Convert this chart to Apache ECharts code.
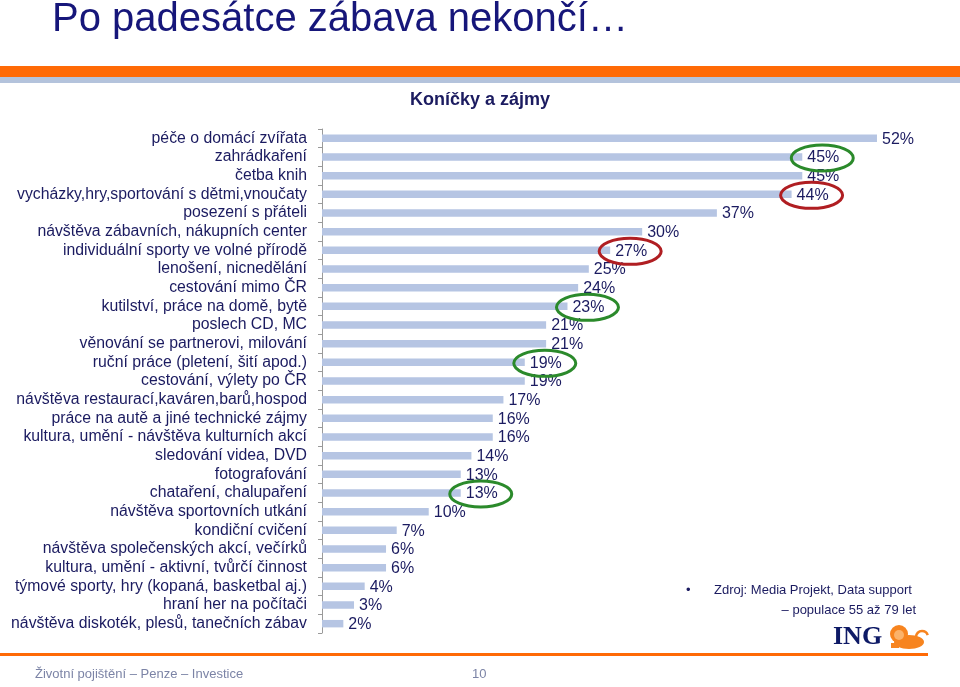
<!DOCTYPE html>
<html>
<head>
<meta charset="utf-8">
<script src="https://cdn.jsdelivr.net/npm/echarts@6/dist/echarts.min.js"></script>
<style>
html,body{margin:0;padding:0;background:#fff;}
#chart{width:960px;height:687px;}
</style>
</head>
<body>
<div id="chart"></div>
<script>
// ---- data ----
var categories = [
  'péče o domácí zvířata',
  'zahrádkaření',
  'četba knih',
  'vycházky,hry,sportování s dětmi,vnoučaty',
  'posezení s přáteli',
  'návštěva zábavních, nákupních center',
  'individuální sporty ve volné přírodě',
  'lenošení, nicnedělání',
  'cestování mimo ČR',
  'kutilství, práce na domě, bytě',
  'poslech CD, MC',
  'věnování se partnerovi, milování',
  'ruční práce (pletení, šití apod.)',
  'cestování, výlety po ČR',
  'návštěva restaurací,kaváren,barů,hospod',
  'práce na autě a jiné technické zájmy',
  'kultura, umění - návštěva kulturních akcí',
  'sledování videa, DVD',
  'fotografování',
  'chataření, chalupaření',
  'návštěva sportovních utkání',
  'kondiční cvičení',
  'návštěva společenských akcí, večírků',
  'kultura, umění - aktivní, tvůrčí činnost',
  'týmové sporty, hry (kopaná, basketbal aj.)',
  'hraní her na počítači',
  'návštěva diskoték, plesů, tanečních zábav'
];
var values = [52, 45, 45, 44, 37, 30, 27, 25, 24, 23, 21, 21, 19, 19, 17, 16, 16, 14, 13, 13, 10, 7, 6, 6, 4, 3, 2];
var greenHighlights = [1, 9, 12, 19];
var redHighlights = [3, 6];

var chartTitle = 'Po padesátce zábava nekončí…';
var subTitle = 'Koníčky a zájmy';
var sourceLine1 = 'Zdroj: Media Projekt, Data support';
var sourceLine2 = '– populace 55 až 79 let';
var footerText = 'Životní pojištění – Penze – Investice';
var pageNumber = '10';

// ---- build ----
var FONT = "'Liberation Sans', Arial, sans-serif";
var NAVY = '#1b1b60';
var highlightData = [];
greenHighlights.forEach(function (i) { highlightData.push([values[i], i, '#2b8a2b']); });
redHighlights.forEach(function (i) { highlightData.push([values[i], i, '#b01e22']); });

var chart = echarts.init(document.getElementById('chart'));
chart.setOption({
  backgroundColor: '#ffffff',
  animation: false,
  grid: { left: 322, right: 51, top: 129, bottom: 54, containLabel: false },
  xAxis: {
    type: 'value', min: 0, max: 55, show: false
  },
  yAxis: {
    type: 'category',
    data: categories,
    inverse: true,
    axisLine: { show: true, lineStyle: { color: '#9a9a9a', width: 1 } },
    axisTick: { show: true, length: 4, interval: 0, alignWithLabel: false, lineStyle: { color: '#9a9a9a' } },
    axisLabel: { interval: 0, color: NAVY, fontFamily: FONT, fontSize: 15.8, margin: 15 },
    splitLine: { show: false }
  },
  series: [
    {
      type: 'bar',
      data: values,
      barWidth: '40%',
      itemStyle: { color: '#b6c5e3' },
      label: {
        show: true,
        position: 'right',
        distance: 5,
        offset: [0, 1],
        formatter: '{c}%',
        color: NAVY,
        fontFamily: FONT,
        fontSize: 16
      },
      z: 2
    },
    {
      type: 'custom',
      data: highlightData,
      z: 5,
      silent: true,
      renderItem: function (params, api) {
        var p = api.coord([api.value(0), api.value(1)]);
        var color = highlightData[params.dataIndex][2];
        return {
          type: 'ellipse',
          shape: { cx: p[0] + 20, cy: p[1] + 1, rx: 31, ry: 13 },
          style: { fill: 'none', stroke: color, lineWidth: 3 }
        };
      }
    }
  ],
  graphic: [
    { type: 'text', left: 52, top: 0, style: { text: chartTitle, font: '40px ' + FONT, fill: '#16167a' } },
    { type: 'rect', left: 0, top: 66, shape: { width: 960, height: 11 }, style: { fill: '#ff6a06' } },
    { type: 'rect', left: 0, top: 77, shape: { width: 960, height: 6 }, style: { fill: '#b4c3dc' } },
    { type: 'text', left: 'center', top: 91, style: { text: subTitle, font: 'bold 18px ' + FONT, fill: NAVY, x: 0 } },
    { type: 'text', left: 686, top: 584, style: { text: '•', font: '13px ' + FONT, fill: NAVY } },
    { type: 'text', left: 714, top: 584, style: { text: sourceLine1, font: '13px ' + FONT, fill: NAVY } },
    { type: 'text', right: 44, top: 604, style: { text: sourceLine2, font: '13px ' + FONT, fill: NAVY } },
    { type: 'text', left: 833, top: 624, style: { text: 'ING', font: 'bold 26px "Liberation Serif", "DejaVu Serif", serif', fill: '#0e1a66' } },
    { type: 'group', left: 890, top: 625, children: [
      { type: 'ellipse', shape: { cx: 20, cy: 17, rx: 15, ry: 7 }, style: { fill: '#f7841f' } },
      { type: 'circle', shape: { cx: 10, cy: 9, r: 9 }, style: { fill: '#f7841f' } },
      { type: 'circle', shape: { cx: 10, cy: 10, r: 5 }, style: { fill: '#fbb26a' } },
      { type: 'rect', shape: { x: 2, y: 18, width: 8, height: 5 }, style: { fill: '#f7841f' } },
      { type: 'arc', shape: { cx: 33, cy: 12, r: 6, startAngle: Math.PI, endAngle: Math.PI * 1.9 }, style: { stroke: '#f7841f', lineWidth: 2.5, fill: 'none' } }
    ] },
    { type: 'rect', left: 0, top: 653, shape: { width: 928, height: 3 }, style: { fill: '#ff6a06' } },
    { type: 'text', left: 35, top: 668, style: { text: footerText, font: '13px ' + FONT, fill: '#7c84a6' } },
    { type: 'text', left: 472, top: 668, style: { text: pageNumber, font: '13px ' + FONT, fill: '#7c84a6' } }
  ]
});
</script>
</body>
</html>
